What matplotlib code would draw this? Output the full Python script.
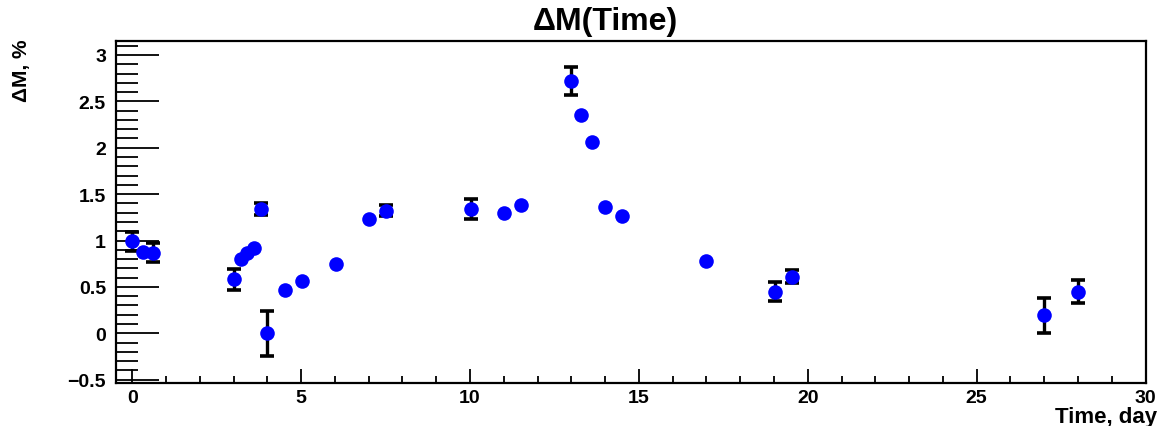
import numpy as np
import matplotlib
matplotlib.use("Agg")
import matplotlib.pyplot as plt
from matplotlib.ticker import MultipleLocator, FuncFormatter

# Data (time in days, dM in %)
time_day = [0.0, 0.32, 0.62, 3.0, 3.21, 3.40, 3.61, 3.82, 4.0, 4.52, 5.02, 6.02,
            7.02, 7.52, 10.02, 11.0, 11.51, 13.0, 13.3, 13.6, 14.0, 14.5,
            17.0, 19.03, 19.52, 27.0, 28.0]
delta_m = [0.99, 0.88, 0.87, 0.58, 0.80, 0.87, 0.92, 1.34, 0.0, 0.47, 0.56, 0.75,
           1.23, 1.32, 1.34, 1.30, 1.38, 2.72, 2.35, 2.06, 1.36, 1.26,
           0.78, 0.45, 0.61, 0.195, 0.45]
delta_m_err = [0.10, 0.0, 0.10, 0.11, 0.0, 0.0, 0.0, 0.065, 0.24, 0.0, 0.0, 0.0,
               0.0, 0.06, 0.11, 0.0, 0.0, 0.15, 0.0, 0.0, 0.0, 0.0,
               0.0, 0.105, 0.07, 0.19, 0.12]

plt.rcParams['font.family'] = ['Liberation Sans', 'DejaVu Sans']
plt.rcParams['font.weight'] = 'bold'

fig = plt.figure(figsize=(11.58, 4.27), dpi=100)
ax = fig.add_axes([115.7 / 1158, 1 - 384.3 / 427, (1145.5 - 115.7) / 1158, (384.3 - 41.7) / 427])

err = np.array(delta_m_err)
ax.errorbar(time_day, delta_m, yerr=np.where(err > 0, err, np.nan), fmt='none',
            ecolor='black', elinewidth=2.4, capsize=5, capthick=2.6, zorder=2)
ax.plot(time_day, delta_m, 'o', color='#0000ff', markersize=10.5, markeredgewidth=0, zorder=3)

ax.set_xlim(-0.49, 30)
ax.set_ylim(-0.539, 3.154)

ax.xaxis.set_major_locator(MultipleLocator(5))
ax.xaxis.set_minor_locator(MultipleLocator(1))
ax.yaxis.set_major_locator(MultipleLocator(0.5))
ax.yaxis.set_minor_locator(MultipleLocator(0.1))
ax.yaxis.set_major_formatter(FuncFormatter(lambda v, p: ('%g' % v).replace('-', '\u2212')))

ax.tick_params(axis='both', which='both', direction='in', top=False, right=False,
               labelsize=14, width=1.3, color='black')
ax.tick_params(axis='x', which='major', length=10, pad=4)
ax.tick_params(axis='x', which='minor', length=5)
ax.tick_params(axis='y', which='major', length=31, pad=7)
ax.tick_params(axis='y', which='minor', length=16)
for lbl in ax.get_xticklabels() + ax.get_yticklabels():
    lbl.set_fontweight('bold')
for sp in ax.spines.values():
    sp.set_linewidth(1.6)

fig.text(605 / 1158, 1 - 22 / 427, '\u0394M(Time)', ha='center', va='center',
         fontsize=23, fontweight='bold')
fig.text(1157 / 1158, 1 - 423.5 / 427, 'Time, day', ha='right', va='baseline',
         fontsize=16, fontweight='bold')
fig.text(22 / 1158, 1 - 39 / 427, '\u0394M, %', ha='center', va='top', rotation=90,
         fontsize=15, fontweight='bold')

fig.savefig('out.png', dpi=100)
